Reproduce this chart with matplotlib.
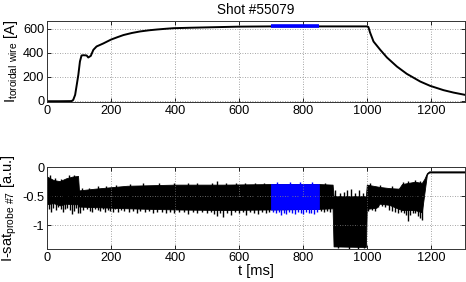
import numpy as np
import matplotlib
matplotlib.use("Agg")
import matplotlib.pyplot as plt
from matplotlib.ticker import FixedLocator, FixedFormatter

plt.rcParams['font.family'] = ['Liberation Sans', 'DejaVu Sans']
plt.rcParams['axes.unicode_minus'] = False
plt.rcParams['mathtext.fontset'] = 'custom'
plt.rcParams['mathtext.rm'] = 'Liberation Sans'

title = "Shot #55079"

# --- top panel: toroidal wire current ---
t_wire = [0, 40, 77, 82, 88, 93, 98, 103, 108, 114, 124, 129, 137, 145, 155, 176, 200, 220, 239,
          265, 291, 320, 343, 370, 395, 450, 500, 600, 700, 850, 1000, 1005, 1010, 1021, 1042,
          1063, 1094, 1125, 1167, 1198, 1240, 1271, 1307]
i_wire = [-3, -3, -2, 8, 50, 133, 217, 328, 378, 380, 378, 361, 375, 425, 453, 478, 510, 530, 548,
          565, 578, 588, 594, 600, 605, 609, 612, 618, 620, 620, 620, 615, 570, 494, 425,
          361, 286, 225, 161, 125, 89, 69, 50]

# --- bottom panel: I-sat probe #7, base envelope of the noisy signal ---
t_sat = [0, 20, 40, 60, 80, 97, 100, 150, 250, 400, 550, 700, 850, 893, 896, 997, 1000, 1030,
         1040, 1070, 1100, 1110, 1150, 1172, 1180, 1188, 1195, 1310]
sat_upper = [-0.16, -0.22, -0.24, -0.19, -0.16, -0.15, -0.40, -0.37, -0.32, -0.30, -0.30, -0.29,
             -0.29, -0.30, -0.50, -0.50, -0.30, -0.33, -0.34, -0.36, -0.37, -0.29, -0.25, -0.27,
             -0.20, -0.10, -0.07, -0.07]
sat_lower = [-0.64, -0.62, -0.66, -0.63, -0.64, -0.64, -0.68, -0.69, -0.71, -0.73, -0.74, -0.73,
             -0.72, -0.71, -1.37, -1.38, -0.72, -0.70, -0.63, -0.65, -0.72, -0.74, -0.74, -0.78,
             -0.45, -0.12, -0.09, -0.09]

# noise spikes reaching beyond the base envelope
spike_lo_t = [5, 12, 18, 27, 33, 44, 50, 56, 64, 71, 78, 84, 90, 97,
              104, 112, 125, 134, 142, 150, 158, 166, 174, 182, 190, 198, 206, 214, 222, 232, 240,
              256, 268, 280, 292, 305, 318, 330, 345, 360, 372, 385, 398, 412, 428, 440, 455, 470,
              484, 500, 512, 522, 532, 542, 551, 562, 575, 588, 600, 612, 622, 635, 648, 660, 672,
              685, 695,
              708, 716, 724, 731, 740, 748, 757, 765, 775, 785, 793, 801, 810, 818, 826, 835, 843,
              858, 866, 875, 884,
              910, 945, 972, 990,
              1005, 1015, 1025, 1036, 1048, 1058, 1068, 1078, 1088, 1097, 1106, 1115, 1122, 1129,
              1136, 1144, 1152, 1160, 1166, 1171]
spike_lo_v = [-0.72, -0.78, -0.70, -0.74, -0.68, -0.72, -0.78, -0.73, -0.70, -0.74, -0.81, -0.75,
              -0.70, -0.79,
              -0.79, -0.74, -0.73, -0.75, -0.78, -0.73, -0.74, -0.76, -0.73, -0.77, -0.74, -0.75,
              -0.77, -0.73, -0.78, -0.74, -0.76,
              -0.77, -0.75, -0.79, -0.76, -0.78, -0.76, -0.79, -0.77, -0.78, -0.80, -0.77, -0.79,
              -0.77, -0.78, -0.81, -0.78, -0.80, -0.77, -0.79, -0.78, -0.81, -0.84, -0.80, -0.86,
              -0.79, -0.82, -0.78, -0.80, -0.78, -0.83, -0.78, -0.80, -0.81, -0.78, -0.80, -0.78,
              -0.78, -0.80, -0.78, -0.83, -0.79, -0.81, -0.78, -0.80, -0.81, -0.78, -0.80, -0.81,
              -0.78, -0.80, -0.79, -0.81, -0.78,
              -0.76, -0.78, -0.75, -0.77,
              -1.40, -1.41, -1.42, -1.40,
              -0.76, -0.74, -0.75, -0.69, -0.67, -0.69, -0.74, -0.76, -0.78, -0.79, -0.78, -0.80,
              -0.83, -0.93, -0.82, -0.80, -0.79, -0.84, -0.88, -0.92]
spike_hi_t = [8, 25, 45, 70, 85,
              110, 130, 160, 185, 215, 260, 300, 350, 398, 440, 470, 515, 532, 560, 590, 620, 650,
              680, 720, 760, 790, 830, 870,
              902, 915, 928, 938, 950, 962, 975, 988,
              1010, 1040, 1080, 1112, 1130, 1150, 1165]
spike_hi_v = [-0.13, -0.19, -0.20, -0.14, -0.13,
              -0.36, -0.35, -0.33, -0.32, -0.30, -0.29, -0.27, -0.28, -0.27, -0.28, -0.27, -0.27,
              -0.23, -0.27, -0.27, -0.28, -0.27, -0.28, -0.26, -0.26, -0.26, -0.26, -0.27,
              -0.40, -0.45, -0.43, -0.40, -0.37, -0.44, -0.40, -0.45,
              -0.28, -0.30, -0.33, -0.26, -0.24, -0.22, -0.24]

highlight = (700, 850)

x_ticks = [0, 200, 400, 600, 800, 1000, 1200]
top_ticks = [0, 200, 400, 600]
bot_ticks = [-1, -0.5, 0]
bot_tick_labels = ["-1", "-0.5", "0"]

fig = plt.figure(figsize=(4.66, 2.82), dpi=100)
ax1 = fig.add_axes([47/466, 1 - 102.3/282, 418/466, 81.3/282])
ax2 = fig.add_axes([47/466, 1 - 249.3/282, 418/466, 82/282])

tw = np.array(t_wire, float)
iw = np.array(i_wire, float)
ax1.plot(tw, iw, color='black', lw=1.4)
m = (tw >= highlight[0]) & (tw <= highlight[1])
ax1.plot(tw[m], iw[m], color='blue', lw=2.6, solid_capstyle='butt')
ax1.set_xlim(0, 1307)
ax1.set_ylim(-12, 665)
ax1.yaxis.set_major_locator(FixedLocator(top_ticks))
ax1.set_ylabel(r'I$_{\mathregular{toroidal\ wire}}$ [A]', fontsize=10.5, labelpad=2)
ax1.set_title(title, fontsize=9.8, pad=5)


def colour_for(t):
    return 'blue' if highlight[0] <= t <= highlight[1] else 'black'


ts = np.array(t_sat, float)
su = np.array(sat_upper)
sl = np.array(sat_lower)
ax2.fill_between(ts, sl, su, color='black', lw=0.6, edgecolor='black')
mb = (ts >= highlight[0]) & (ts <= highlight[1])
ax2.fill_between(ts[mb], sl[mb], su[mb], color='blue', lw=0.6, edgecolor='blue')
mid = lambda t: 0.5 * (np.interp(t, ts, su) + np.interp(t, ts, sl))
for t, v in list(zip(spike_lo_t, spike_lo_v)) + list(zip(spike_hi_t, spike_hi_v)):
    ax2.vlines(t, v, mid(t), color=colour_for(t), lw=1.0)
ax2.set_xlim(0, 1307)
ax2.set_ylim(-1.42, 0)
ax2.yaxis.set_major_locator(FixedLocator(bot_ticks))
ax2.yaxis.set_major_formatter(FixedFormatter(bot_tick_labels))
ax2.set_ylabel(r'I-sat$_{\mathregular{probe\ \#7}}$ [a.u.]', fontsize=10.5, labelpad=2)
ax2.set_xlabel('t [ms]', fontsize=10.5, labelpad=0)

for ax in (ax1, ax2):
    ax.xaxis.set_major_locator(FixedLocator(x_ticks))
    ax.tick_params(direction='in', top=True, right=True, length=3, width=0.6,
                   labelsize=9.2, pad=2)
    ax.grid(True, color='#888888', linestyle=(0, (1, 2)), lw=0.6)
    for s in ax.spines.values():
        s.set_linewidth(0.7)
        s.set_color('#333333')

fig.savefig('out.png', dpi=100)
